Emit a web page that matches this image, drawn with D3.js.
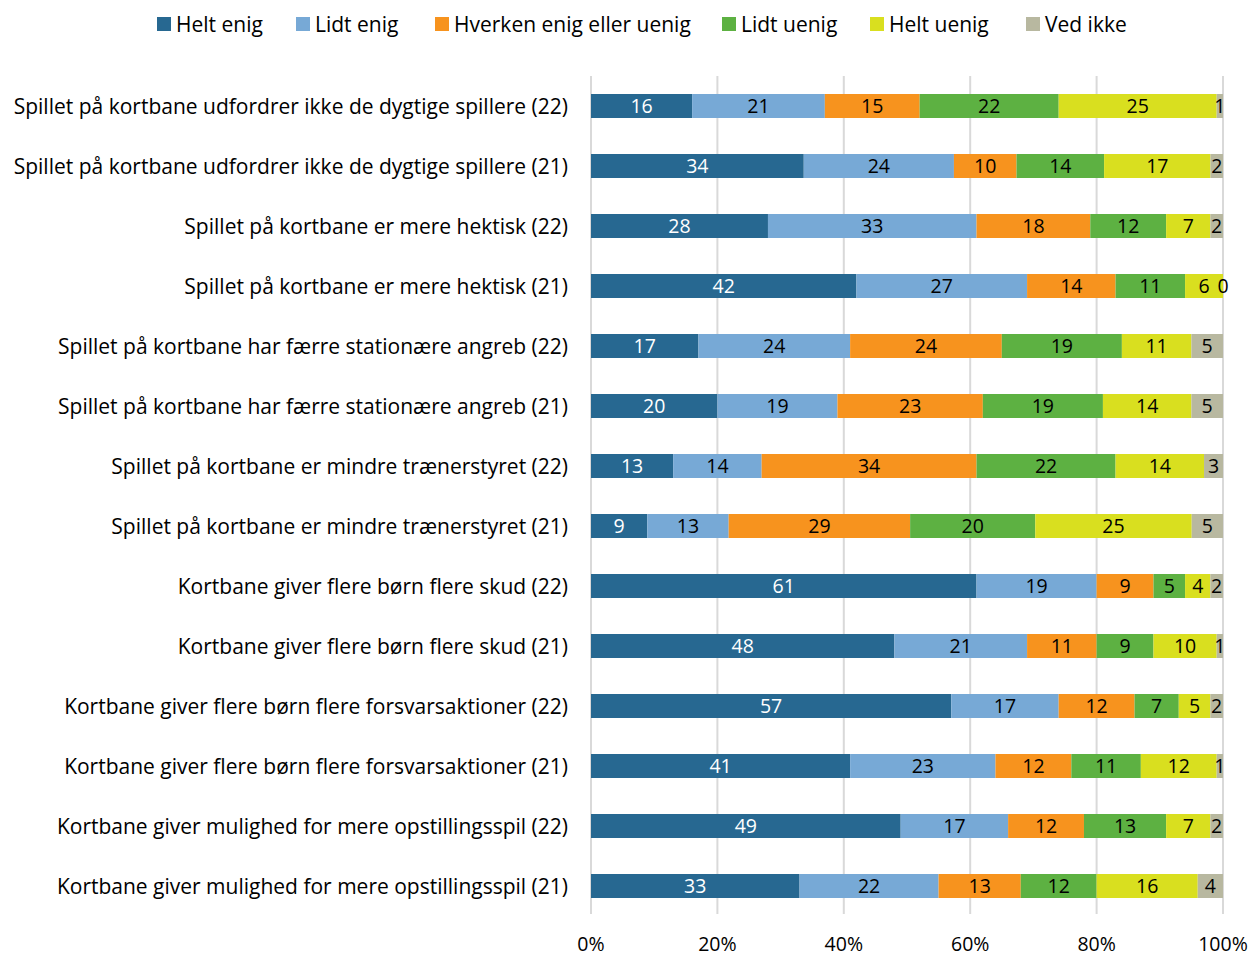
<!DOCTYPE html>
<html>
<head>
<meta charset="utf-8">
<script src="https://cdn.jsdelivr.net/npm/d3@7"></script>
<style>
  body { margin: 0; background: #fff; }
  text { font-family: "Open Sans", Lato, sans-serif; }
</style>
</head>
<body>
<div id="chart"></div>
<script>
var categories = [
  "Spillet på kortbane udfordrer ikke de dygtige spillere (22)",
  "Spillet på kortbane udfordrer ikke de dygtige spillere (21)",
  "Spillet på kortbane er mere hektisk (22)",
  "Spillet på kortbane er mere hektisk (21)",
  "Spillet på kortbane har færre stationære angreb (22)",
  "Spillet på kortbane har færre stationære angreb (21)",
  "Spillet på kortbane er mindre trænerstyret (22)",
  "Spillet på kortbane er mindre trænerstyret (21)",
  "Kortbane giver flere børn flere skud (22)",
  "Kortbane giver flere børn flere skud (21)",
  "Kortbane giver flere børn flere forsvarsaktioner (22)",
  "Kortbane giver flere børn flere forsvarsaktioner (21)",
  "Kortbane giver mulighed for mere opstillingsspil (22)",
  "Kortbane giver mulighed for mere opstillingsspil (21)"
];
var seriesNames = ["Helt enig", "Lidt enig", "Hverken enig eller uenig", "Lidt uenig", "Helt uenig", "Ved ikke"];
var heltEnig   = [16, 34, 28, 42, 17, 20, 13, 9, 61, 48, 57, 41, 49, 33];
var lidtEnig   = [21, 24, 33, 27, 24, 19, 14, 13, 19, 21, 17, 23, 17, 22];
var hverken    = [15, 10, 18, 14, 24, 23, 34, 29, 9, 11, 12, 12, 12, 13];
var lidtUenig  = [22, 14, 12, 11, 19, 19, 22, 20, 5, 9, 7, 11, 13, 12];
var heltUenig  = [25, 17, 7, 6, 11, 14, 14, 25, 4, 10, 5, 12, 7, 16];
var vedIkke    = [1, 2, 2, 0, 5, 5, 3, 5, 2, 1, 2, 1, 2, 4];
var xTicks = [0, 0.2, 0.4, 0.6, 0.8, 1];
var colors = ["#276891", "#77a9d6", "#f7931e", "#5db142", "#d9df1f", "#b8b8a0"];

var allSeries = [heltEnig, lidtEnig, hverken, lidtUenig, heltUenig, vedIkke];
var rows = categories.map(function(c, i) {
  var r = { cat: c };
  seriesNames.forEach(function(s, k) { r[s] = allSeries[k][i]; });
  return r;
});

var W = 1254, H = 956;
var svg = d3.select("#chart").append("svg")
  .attr("width", W).attr("height", H);

var x = d3.scaleLinear().domain([0, 1]).range([591, 1223]);
var y = d3.scaleBand().domain(categories).range([76, 916]).paddingInner(0.6).paddingOuter(0.3);

// gridlines
svg.append("g").selectAll("line").data(xTicks).enter().append("line")
  .attr("x1", function(d) { return x(d); }).attr("x2", function(d) { return x(d); })
  .attr("y1", 76).attr("y2", 914)
  .attr("stroke", "#d9d9d9").attr("stroke-width", 2);

var stack = d3.stack().keys(seriesNames).offset(d3.stackOffsetExpand);
var stacked = stack(rows);

var layers = svg.append("g").selectAll("g").data(stacked).enter().append("g")
  .attr("fill", function(d, i) { return colors[i]; });

layers.selectAll("rect").data(function(d) { return d; }).enter().append("rect")
  .attr("x", function(d) { return x(d[0]); })
  .attr("width", function(d) { return x(d[1]) - x(d[0]); })
  .attr("y", function(d) { return y(d.data.cat); })
  .attr("height", y.bandwidth());

layers.each(function(layer, li) {
  d3.select(this).selectAll("text").data(layer).enter().append("text")
    .attr("x", function(d) { return (x(d[0]) + x(d[1])) / 2; })
    .attr("y", function(d) { return y(d.data.cat) + y.bandwidth() / 2; })
    .attr("dy", "0.36em")
    .attr("text-anchor", "middle")
    .attr("font-size", 19.5)
    .attr("fill", li === 0 ? "#fff" : "#000")
    .text(function(d) { return d.data[layer.key]; });
});

// category labels
svg.append("g").selectAll("text").data(categories).enter().append("text")
  .attr("x", 568)
  .attr("y", function(d) { return y(d) + y.bandwidth() / 2; })
  .attr("dy", "0.36em")
  .attr("text-anchor", "end")
  .attr("font-size", 21)
  .attr("fill", "#000")
  .text(function(d) { return d; });

// x axis labels
svg.append("g").selectAll("text").data(xTicks).enter().append("text")
  .attr("x", function(d) { return x(d); })
  .attr("y", 944)
  .attr("dy", "0.36em")
  .attr("text-anchor", "middle")
  .attr("font-size", 19.5)
  .attr("fill", "#000")
  .text(function(d) { return d3.format(".0%")(d); });

// legend
var legendX = [157, 296, 435, 722, 870, 1026];
var legend = svg.append("g").selectAll("g").data(seriesNames).enter().append("g")
  .attr("transform", function(d, i) { return "translate(" + legendX[i] + ",24)"; });
legend.append("rect").attr("x", 0).attr("y", -7).attr("width", 14).attr("height", 14)
  .attr("fill", function(d, i) { return colors[i]; });
legend.append("text").attr("x", 19).attr("dy", "0.36em")
  .attr("font-size", 21).attr("fill", "#000")
  .text(function(d) { return d; });
</script>
</body>
</html>
